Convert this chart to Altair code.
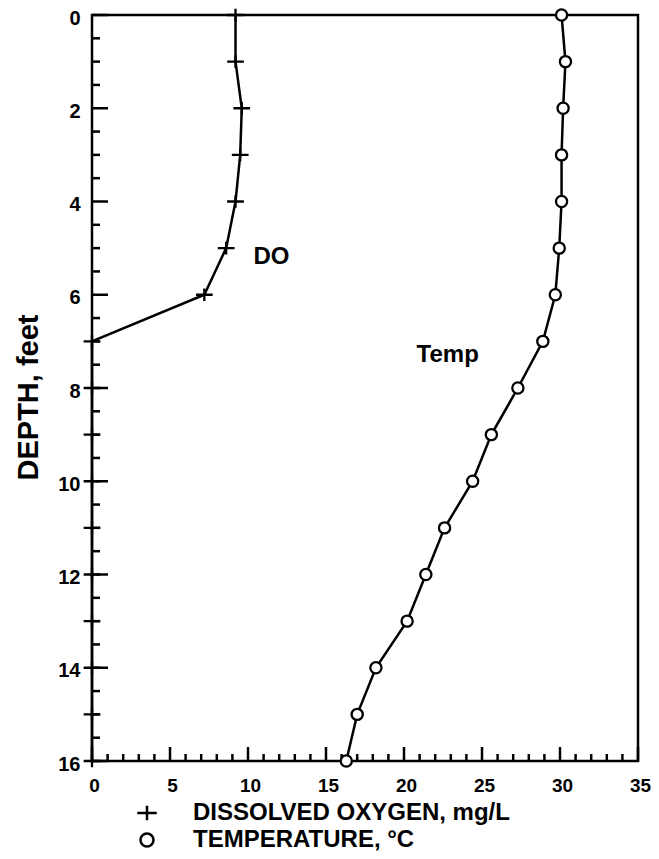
import altair as alt
import pandas as pd

# ---- data ----
depth_ft = [0, 1, 2, 3, 4, 5, 6, 7, 8, 9, 10, 11, 12, 13, 14, 15, 16]
do_mg_l = [9.2, 9.2, 9.6, 9.5, 9.2, 8.6, 7.2, 0, 0, 0, 0, 0, 0, 0, 0, 0, 0]
temp_c = [30.1, 30.35, 30.2, 30.1, 30.1, 29.95, 29.7, 28.9, 27.3, 25.6, 24.4,
          22.6, 21.4, 20.2, 18.2, 17.0, 16.3]
series_names = ["DISSOLVED OXYGEN, mg/L", "TEMPERATURE, °C"]

x_label_values = [0, 5, 10, 15, 20, 25, 30, 35]
y_label_values = [0, 2, 4, 6, 8, 10, 12, 14, 16]
x_tick_values = list(range(0, 36))
y_tick_values = [i / 2 for i in range(0, 33)]

annot_text = ["DO", "Temp"]
annot_x = [11.5, 22.8]
annot_depth = [5.2, 7.3]

FONT = "Liberation Sans"
PLUS = "M-1,0H1M0,-0.75V0.75"
shape_range = [PLUS, "circle"]

rows = []
for d, v in zip(depth_ft, do_mg_l):
    rows.append({"depth": d, "value": v, "series": series_names[0]})
for d, v in zip(depth_ft, temp_c):
    rows.append({"depth": d, "value": v, "series": series_names[1]})
df = pd.DataFrame(rows)

xtick_df = pd.DataFrame({"value": x_tick_values})
xtick_df["major"] = xtick_df["value"] % 5 == 0
ytick_df = pd.DataFrame({"depth": y_tick_values})
ytick_df["major"] = ytick_df["depth"] % 2 == 0
annot_df = pd.DataFrame({"label": annot_text, "value": annot_x, "depth": annot_depth})

xscale = alt.Scale(domain=[0, 35], nice=False, zero=False)
yscale = alt.Scale(domain=[0, 16], reverse=True, nice=False, zero=False)

x_axis = alt.Axis(values=x_label_values, ticks=False, tickSize=0, domain=False, grid=False,
                  title=None, labelFont=FONT, labelFontSize=19, labelFontWeight="bold",
                  labelColor="black", labelPadding=15, labelOffset=2, labelFlush=False)
y_axis = alt.Axis(values=y_label_values, ticks=False, tickSize=0, domain=False, grid=False,
                  title="DEPTH, feet", titleFont=FONT, titleFontSize=29,
                  titleFontWeight="bold", titleColor="black", titlePadding=14,
                  titleY=382,
                  labelFont=FONT, labelFontSize=20, labelFontWeight="bold",
                  labelColor="black", labelPadding=12, labelOffset=3, labelFlush=False)

X = alt.X("value:Q", scale=xscale, axis=x_axis)
Y = alt.Y("depth:Q", scale=yscale, axis=y_axis)
shape_scale = alt.Scale(domain=series_names, range=shape_range)

base = alt.Chart(df)

lines = base.mark_line(color="black", strokeWidth=2.5).encode(
    x=X, y=Y, detail="series:N", order="depth:Q",
)

points = base.mark_point(filled=False, fill="white", fillOpacity=1, stroke="black",
                         strokeWidth=2.3, opacity=1).encode(
    x=X, y=Y,
    shape=alt.Shape("series:N", scale=shape_scale, legend=None),
    size=alt.condition(alt.datum.series == series_names[0], alt.value(280), alt.value(125)),
)

ytick_major = alt.Chart(ytick_df).transform_filter("datum.major").mark_rule(
    color="black", strokeWidth=2.5).encode(y=Y, x=alt.value(0), x2=alt.value(16))
ytick_minor = alt.Chart(ytick_df).transform_filter("!datum.major").mark_rule(
    color="black", strokeWidth=2.5).encode(y=Y, x=alt.value(0), x2=alt.value(8))
xtick_major = alt.Chart(xtick_df).transform_filter("datum.major").mark_rule(
    color="black", strokeWidth=2.5).encode(x=X, y=alt.value(746), y2=alt.value(732))
xtick_minor = alt.Chart(xtick_df).transform_filter("!datum.major").mark_rule(
    color="black", strokeWidth=2.5).encode(x=X, y=alt.value(746), y2=alt.value(739))

annots = alt.Chart(annot_df).mark_text(font=FONT, fontSize=24, fontWeight="bold",
                                       color="black").encode(
    x=X, y=Y, text="label:N",
)

# hand-placed legend below the x axis (symbols + labels)
legend_layers = []
legend_rows_y = [798, 825]
legend_sizes = [380, 170]
for i, name in enumerate(series_names):
    ldf = pd.DataFrame({"series": [name]})
    legend_layers.append(
        alt.Chart(ldf).mark_point(filled=False, fill="white", fillOpacity=1,
                                  stroke="black", strokeWidth=2.5, opacity=1,
                                  size=legend_sizes[i]).encode(
            x=alt.value(55), y=alt.value(legend_rows_y[i]),
            shape=alt.Shape("series:N", scale=shape_scale, legend=None))
    )
    legend_layers.append(
        alt.Chart(ldf).mark_text(font=FONT, fontSize=24, fontWeight="bold", color="black",
                                 align="left", baseline="middle").encode(
            x=alt.value(101), y=alt.value(legend_rows_y[i]), text="series:N")
    )

chart = alt.layer(lines, ytick_major, ytick_minor, xtick_major, xtick_minor, points, annots,
                  *legend_layers).properties(
    width=546, height=746,
    padding={"left": 84, "top": 7, "right": 13, "bottom": 90},
    autosize=alt.AutoSizeParams(type="none"),
    background="white",
).configure_view(stroke="black", strokeWidth=2.5)

chart.save("out.html", embed_options={"renderer": "svg", "actions": False})
